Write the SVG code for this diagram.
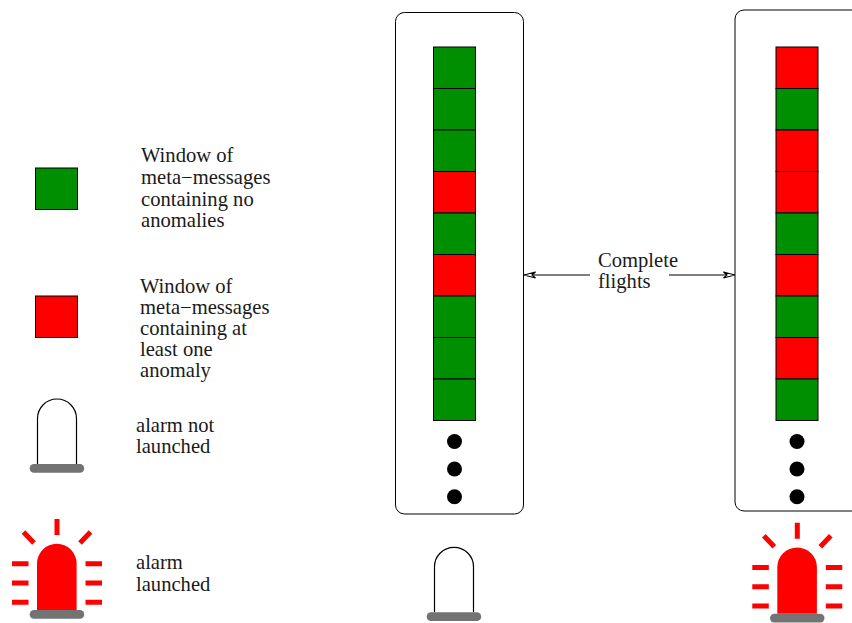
<svg xmlns="http://www.w3.org/2000/svg" width="852" height="623" viewBox="0 0 852 623">
<style>
text{font-family:"Liberation Serif","Times New Roman",serif;font-size:20.6px;fill:#1a1a1a}
.g{fill:#008f00;stroke:#000;stroke-width:1}
.r{fill:#ff0000;stroke:#000;stroke-width:1}
.box{fill:#fff;stroke:#000;stroke-width:1}
.conn{fill:none;stroke:#000;stroke-width:1.2}
.ray{stroke:#ff0000;stroke-width:5;fill:none}
.base{fill:#737373}
.dome{fill:#fff;stroke:#000;stroke-width:1.2}
.domeon{fill:#ff0000}
</style>
<defs>
<marker id="arr" viewBox="0 0 12 8" refX="12" refY="4" markerWidth="12" markerHeight="8" markerUnits="userSpaceOnUse" orient="auto-start-reverse">
<path d="M0.500 1L12 4L0.500 7L4 4Z" fill="#fff" stroke="#000" stroke-width="1.100"/>
</marker>
<g id="off">
<path class="dome" d="M37.5 464V418.500A19.500 19.500 0 0 1 76.500 418.500V464"/>
<rect class="base" x="29.700" y="464" width="54.500" height="8.700" rx="4.300"/>
</g>
<g id="on">
<path class="domeon" d="M37 610V563.500A19.800 19.800 0 0 1 76.600 563.500V610Z"/>
<rect class="base" x="29.700" y="610" width="54.500" height="8.700" rx="4.300"/>
<path class="ray" d="M57 519V535M23.500 532L34 543M90.500 532L80 543M12 563.700H28.500M12 583H28.500M12 602.300H28.500M85.500 563.700H102M85.500 583H102M85.500 602.300H102"/>
</g>
</defs>

<g id="flight-left">
<rect class="box" x="395.500" y="12.500" width="128" height="501.500" rx="9"/>
<rect class="g" x="433.500" y="47" width="42" height="41.500"/>
<rect class="g" x="433.500" y="88.500" width="42" height="41.500"/>
<rect class="g" x="433.500" y="130" width="42" height="41.500"/>
<rect class="r" x="433.500" y="171.500" width="42" height="41.500"/>
<rect class="g" x="433.500" y="213" width="42" height="41.500"/>
<rect class="r" x="433.500" y="254.500" width="42" height="41.500"/>
<rect class="g" x="433.500" y="296" width="42" height="41.500"/>
<rect class="g" x="433.500" y="337.500" width="42" height="41.500"/>
<rect class="g" x="433.500" y="379" width="42" height="41.500"/>
<circle cx="454.500" cy="441.500" r="7.500"/>
<circle cx="454.500" cy="469" r="7.500"/>
<circle cx="454.500" cy="496.700" r="7.500"/>
</g>

<g id="flight-right">
<rect class="box" x="735" y="10" width="130" height="501" rx="9"/>
<rect class="r" x="776" y="47" width="42" height="41.500"/>
<rect class="g" x="776" y="88.500" width="42" height="41.500"/>
<rect class="r" x="776" y="130" width="42" height="41.500"/>
<rect class="r" x="776" y="171.500" width="42" height="41.500"/>
<rect class="g" x="776" y="213" width="42" height="41.500"/>
<rect class="r" x="776" y="254.500" width="42" height="41.500"/>
<rect class="g" x="776" y="296" width="42" height="41.500"/>
<rect class="r" x="776" y="337.500" width="42" height="41.500"/>
<rect class="g" x="776" y="379" width="42" height="41.500"/>
<circle cx="797" cy="441.500" r="7.500"/>
<circle cx="797" cy="469" r="7.500"/>
<circle cx="797" cy="496.700" r="7.500"/>
</g>

<g id="connectors">
<path class="conn" d="M590 275H524" marker-end="url(#arr)"/>
<path class="conn" d="M669 275H735" marker-end="url(#arr)"/>
</g>

<g id="complete-flights-label">
<text x="598" y="266.500">Complete</text>
<text x="598" y="287.500">flights</text>
</g>

<g id="legend-green">
<rect class="g" x="35.500" y="168" width="42" height="41.500"/>
<text x="141" y="162">Window of</text>
<text x="141" y="184">meta−messages</text>
<text x="141" y="205.500">containing no</text>
<text x="141" y="226.500">anomalies</text>
</g>

<g id="legend-red">
<rect class="r" x="35.500" y="296" width="42" height="41.500"/>
<text x="140" y="292.500">Window of</text>
<text x="140" y="313.500">meta−messages</text>
<text x="140" y="334.500">containing at</text>
<text x="140" y="355.500">least one</text>
<text x="140" y="376.500">anomaly</text>
</g>

<g id="legend-off">
<use href="#off"/>
<text x="136" y="431.500">alarm not</text>
<text x="136" y="452.500">launched</text>
</g>

<g id="legend-on">
<use href="#on"/>
<text x="136" y="568.700">alarm</text>
<text x="136" y="590.700">launched</text>
</g>

<g id="alarm-left"><use href="#off" x="397" y="148.300"/></g>
<g id="alarm-right"><use href="#on" x="740.300" y="3.700"/></g>
</svg>
